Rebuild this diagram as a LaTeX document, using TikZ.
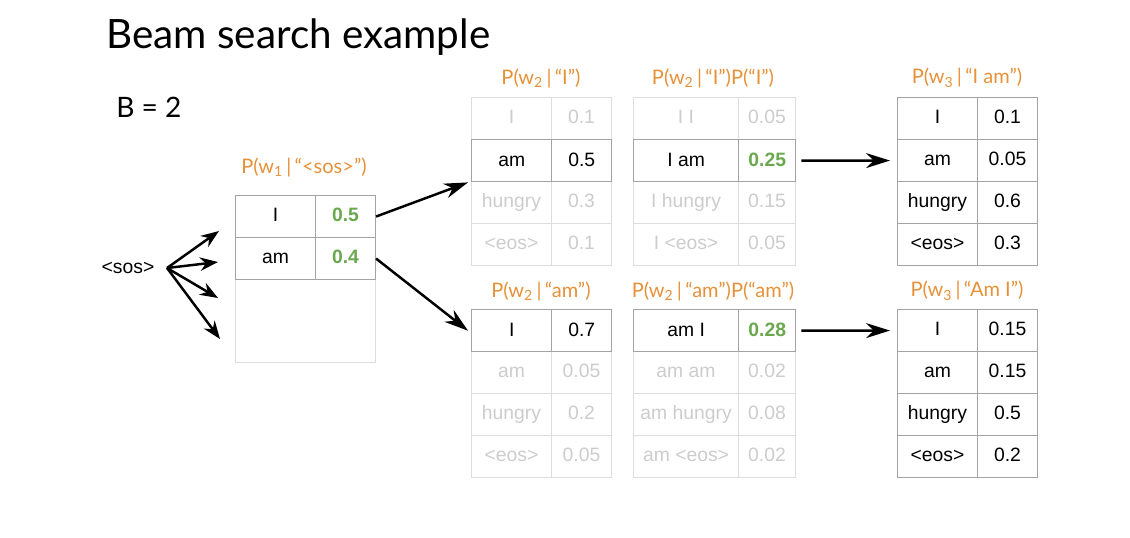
\documentclass[tikz,border=0pt]{standalone}
\usepackage{fontspec}
\setmainfont{Liberation Sans}
\newfontfamily\latofont{Lato}
\usetikzlibrary{arrows.meta, positioning}
\definecolor{beamorange}{HTML}{E69138}
\definecolor{beamgreen}{HTML}{6AA84F}
\definecolor{fadegray}{HTML}{CCCCCC}
\definecolor{palegray}{HTML}{DDDDDD}
\definecolor{edgegray}{HTML}{A3A3A3}

\begin{document}
\begin{tikzpicture}[
   x=0.2mm, y=-0.2mm,
   cell/.style={rectangle, draw=palegray, line width=0.6pt, anchor=north west,
                inner sep=0pt, minimum height=8.4mm, text height=1.6ex,
                text depth=0.45ex, font=\fontsize{11}{13}\selectfont},
   wcell/.style={cell, minimum width=16mm},
   pcell/.style={cell, minimum width=12mm},
   jwcell/.style={cell, minimum width=21mm},
   jpcell/.style={cell, minimum width=11.4mm},
   faint/.style={text=fadegray},
   plain/.style={draw=edgegray, text=black},
   hot/.style={plain, line width=0.8pt},
   best/.style={text=beamgreen, font=\fontsize{11}{13}\selectfont\bfseries},
   pick/.style={hot, best},
   lbl/.style={text=beamorange, inner sep=0pt, font=\latofont\fontsize{11.4}{14}\selectfont},
   arr/.style={-{Stealth[length=4.8mm, width=3mm]}, line width=1.4pt}]
 \useasboundingbox (0,0) rectangle (1130,537);

 % heading
 \node[anchor=base west, inner sep=0pt, font=\latofont\fontsize{23}{27}\selectfont]
   (title) at (106,48) {Beam search example};
 \node[anchor=base west, inner sep=0pt, font=\latofont\fontsize{16}{19}\selectfont]
   (beam) at (116,117) {B = 2};

 % first step
 \node[font=\fontsize{11}{13}\selectfont] (start) at (128,268) {<sos>};
 \coordinate[right=1.3mm of start] (fan);
 \coordinate (f1) at (219,231);
 \coordinate (f2) at (218,262);
 \coordinate (f3) at (218,298);
 \coordinate (f4) at (220,339);
 \node[lbl] (lsos) at (304,167) {P(w\textsubscript{1}\,|\,“<sos>”)};
 \node[cell, minimum width=28mm, minimum height=16.6mm] (sos-rest) at (235,279) {};
 \node[wcell, plain] (sos-w0) at (235,195) {I};
 \node[pcell, plain, best] (sos-p0) at (315,195) {0.5};
 \node[wcell, plain] (sos-w1) at (235,237) {am};
 \node[pcell, plain, best] (sos-p1) at (315,237) {0.4};

 % second step, after "I"
 \node[lbl] (lpi) at (541,78) {P(w\textsubscript{2}\,|\,“I”)};
 \foreach \r/\w/\p/\a/\b in {0/I/0.1/faint/faint, 2/hungry/0.3/faint/faint,
                             3/<eos>/0.1/faint/faint, 1/am/0.5/hot/hot}{
   \node[wcell, \a] (pi-w\r) at (471,97+42*\r) {\w};
   \node[pcell, \b] (pi-p\r) at (551,97+42*\r) {\p};
 }
 \node[lbl] (lji) at (713,78) {P(w\textsubscript{2}\,|\,“I”)P(“I”)};
 \foreach \r/\w/\p/\a/\b in {0/I I/0.05/faint/faint, 2/I hungry/0.15/faint/faint,
                             3/I <eos>/0.05/faint/faint, 1/I am/0.25/hot/pick}{
   \node[jwcell, \a] (ji-w\r) at (633,97+42*\r) {\w};
   \node[jpcell, \b] (ji-p\r) at (738,97+42*\r) {\p};
 }

 % second step, after "am"
 \node[lbl] (lpam) at (541,291) {P(w\textsubscript{2}\,|\,“am”)};
 \foreach \r/\w/\p/\a/\b in {1/am/0.05/faint/faint, 2/hungry/0.2/faint/faint,
                             3/<eos>/0.05/faint/faint, 0/I/0.7/hot/hot}{
   \node[wcell, \a] (pam-w\r) at (471,309+42*\r) {\w};
   \node[pcell, \b] (pam-p\r) at (551,309+42*\r) {\p};
 }
 \node[lbl] (ljam) at (713,291) {P(w\textsubscript{2}\,|\,“am”)P(“am”)};
 \foreach \r/\w/\p/\a/\b in {1/am am/0.02/faint/faint, 2/am hungry/0.08/faint/faint,
                             3/am <eos>/0.02/faint/faint, 0/am I/0.28/hot/pick}{
   \node[jwcell, \a] (jam-w\r) at (633,309+42*\r) {\w};
   \node[jpcell, \b] (jam-p\r) at (738,309+42*\r) {\p};
 }

 % third step
 \node[lbl] (lpim) at (967,78) {P(w\textsubscript{3}\,|\,“I am”)};
 \foreach \r/\w/\p in {0/I/0.1, 1/am/0.05, 2/hungry/0.6, 3/<eos>/0.3}{
   \node[wcell, plain] (pim-w\r) at (897,97+42*\r) {\w};
   \node[pcell, plain] (pim-p\r) at (977,97+42*\r) {\p};
 }
 \node[lbl] (lpami) at (967,291) {P(w\textsubscript{3}\,|\,“Am I”)};
 \foreach \r/\w/\p in {0/I/0.15, 1/am/0.15, 2/hungry/0.5, 3/<eos>/0.2}{
   \node[wcell, plain] (pami-w\r) at (897,309+42*\r) {\w};
   \node[pcell, plain] (pami-p\r) at (977,309+42*\r) {\p};
 }

 % arrows
 \foreach \f in {f1,f2,f3,f4}
   \draw[arr, -{Stealth[length=3.6mm, width=2.7mm]}] (fan) -- (\f);
 \draw[arr] (sos-p0.east) -- ([xshift=-0.6mm]pi-w1.south west);
 \draw[arr] (sos-p1.east) -- ([xshift=-0.6mm]pam-w0.west);
 \draw[arr, shorten <=1mm, shorten >=1.4mm] (ji-p1.east) -- (pim-w1.west);
 \draw[arr, shorten <=1mm, shorten >=1.4mm] (jam-p0.east) -- (pami-w0.west);
\end{tikzpicture}
\end{document}
